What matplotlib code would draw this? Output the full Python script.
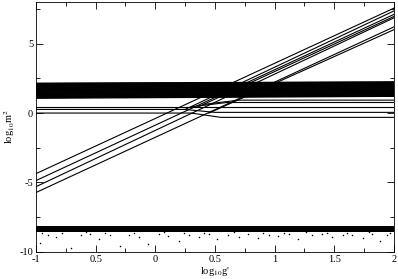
import matplotlib
matplotlib.use("Agg")
import matplotlib.pyplot as plt
from matplotlib.ticker import MultipleLocator

plt.rcParams['font.family'] = ['Liberation Serif', 'DejaVu Serif']
plt.rcParams['mathtext.fontset'] = 'stix'

# x tick positions / labels
x_ticks = [-1, -0.5, 0, 0.5, 1, 1.5, 2]
x_labels = ["-1", "0.5", "0", "0.5", "1", "1.5", "2"]
y_ticks = [-10, -5, 0, 5]
y_labels = ["-10", "-5", "0", "5"]

# dense flat band of levels (log10 m^2), left and right values
band_left = [1.07, 1.12, 1.17, 1.22, 1.27, 1.32, 1.37, 1.42, 1.47, 1.52, 1.57, 1.62,
             1.67, 1.72, 1.77, 1.82, 1.87, 1.92, 1.97, 2.02, 2.07, 2.12, 2.14]
band_right = [1.21, 1.25, 1.30, 1.35, 1.40, 1.45, 1.50, 1.55, 1.60, 1.65, 1.70, 1.75,
              1.80, 1.85, 1.90, 1.95, 2.00, 2.05, 2.10, 2.15, 2.19, 2.22, 2.24]

# rising curves from the left edge: value at x=-1 and at x=2
rise_start = [-4.36, -4.86, -5.30, -5.72]
rise_end = [7.55, 7.10, 6.85, 6.20]

# further rising curves that leave the flat levels (piecewise vertices)
branches = [
    ([-1, 0.25, 2], [0.26, 0.26, 7.35]),
    ([0.35, 2], [0.41, 6.95]),
    ([0.45, 2], [0.00, 6.00]),
]

# low-lying flat curves (piecewise vertices)
flats = [
    ([-1, 0.30, 0.55, 2], [0.00, 0.00, -0.31, -0.31]),
    ([0.25, 0.50, 2], [0.26, 0.05, 0.05]),
    ([-1, 2], [0.41, 0.41]),
    ([0.30, 0.60, 2], [0.45, 0.76, 0.76]),
    ([0.40, 0.70, 2], [0.62, 0.93, 0.93]),
]

# noisy low level: band limits and scattered outliers
noise_lo = -8.55
noise_hi = -8.12
out_x = [-0.97, -0.9, -0.83, -0.71, -0.62, -0.55, -0.47, -0.38, -0.3, -0.22, -0.14,
         -0.06, 0.03, 0.11, 0.2, 0.28, 0.37, 0.45, 0.52, 0.61, 0.7, 0.78, 0.86,
         0.95, 1.03, 1.12, 1.2, 1.31, 1.4, 1.48, 1.57, 1.65, 1.74, 1.82, 1.88, 1.94,
         -0.95, -0.78, -0.58, -0.42, -0.18, 0.07, 0.24, 0.41, 0.66, 0.9, 1.08, 1.26,
         1.44, 1.61, 1.79, 1.97]
out_y = [-9.35, -8.75, -8.9, -9.7, -8.8, -8.7, -9.1, -8.8, -9.6, -8.75, -8.9,
         -9.4, -8.7, -8.85, -9.2, -8.75, -8.9, -8.7, -9.1, -8.8, -8.95, -8.7, -9.0,
         -8.75, -8.85, -8.7, -9.05, -8.8, -8.7, -8.9, -8.75, -8.8, -9.0, -8.7, -9.2, -8.8,
         -8.62, -8.65, -8.6, -8.63, -8.66, -8.6, -8.64, -8.62, -8.6, -8.65, -8.63, -8.6,
         -8.64, -8.62, -8.6, -8.63]

fig = plt.figure(figsize=(3.98, 2.79), dpi=100)
ax = fig.add_axes([0.0905, 0.097, 0.899, 0.896])

for yl, yr in zip(band_left, band_right):
    ax.plot([-1, 2], [yl, yr], color='black', lw=1.0)
for ys, ye in zip(rise_start, rise_end):
    ax.plot([-1, 2], [ys, ye], color='black', lw=0.8)
for xs, ys in branches:
    ax.plot(xs, ys, color='black', lw=0.8)
for xs, ys in flats:
    ax.plot(xs, ys, color='black', lw=0.8)

ax.fill_between([-1, 2], [noise_lo, noise_lo], [noise_hi, noise_hi], color='black', lw=0)
ax.scatter(out_x, out_y, s=1.2, color='black', lw=0)

ax.set_xlim(-1, 2)
ax.set_ylim(-10, 8)
ax.set_xticks(x_ticks)
ax.set_xticklabels(x_labels)
ax.set_yticks(y_ticks)
ax.set_yticklabels(y_labels)
ax.xaxis.set_minor_locator(MultipleLocator(0.25))
ax.yaxis.set_minor_locator(MultipleLocator(2.5))
ax.tick_params(which='both', direction='in', top=True, right=True, labelsize=7.5, pad=2, width=0.6)
ax.tick_params(which='major', length=5)
ax.tick_params(which='minor', length=3)
for s in ax.spines.values():
    s.set_linewidth(0.6)

ax.set_xlabel(r"log$_{10}$g'", fontsize=7.5, labelpad=1)
ax.set_ylabel(r"log$_{10}$m$^2$", fontsize=7.5, labelpad=2)

fig.savefig("out.png", dpi=100)
